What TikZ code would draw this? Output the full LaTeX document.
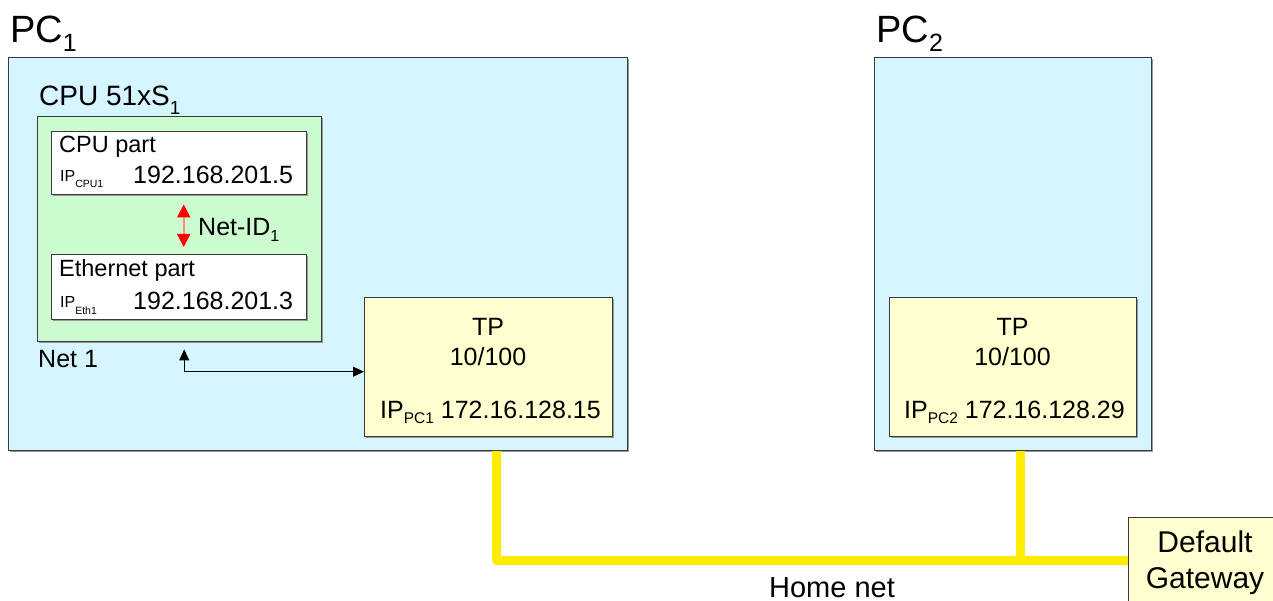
\documentclass[tikz,border=0pt]{standalone}
\usepackage{fontspec}
\setmainfont{Liberation Sans}
\usetikzlibrary{arrows.meta,shadows}
\definecolor{pcfill}{HTML}{D5F5FF}
\definecolor{cpufill}{HTML}{CCFBCF}
\definecolor{tpfill}{HTML}{FFFFD0}
\definecolor{busyel}{HTML}{FFEC00}
\definecolor{edge}{HTML}{3A3A3A}
\newcommand{\fs}[1]{\fontsize{#1}{#1}\selectfont}
\newcommand{\lsub}[3]{\raisebox{-#1pt}{\fs{#2}#3}}
\begin{document}
\begin{tikzpicture}[x=1pt,y=-1pt,
  boxbase/.style={rectangle,draw=edge,line width=1.4pt,anchor=north west,inner sep=0pt,
    drop shadow={shadow xshift=1.5pt,shadow yshift=-1.5pt,fill=gray!80,opacity=1}},
  pcbox/.style={boxbase,fill=pcfill},
  cpubox/.style={boxbase,fill=cpufill},
  partbox/.style={boxbase,fill=white},
  tpbox/.style={boxbase,fill=tpfill},
  lbl/.style={anchor=base west,inner sep=0pt},
  clbl/.style={anchor=base,inner sep=0pt},
  yel/.style={draw=busyel,line width=9pt,line join=round},
  redarr/.style={draw=red!45!white,line width=2pt,
    {Triangle[length=13pt,width=13pt,color=red]}-{Triangle[length=13pt,width=13pt,color=red]}},
  blkarr/.style={draw=black,line width=0.9pt,
    {Triangle[length=11pt,width=10pt]}-{Triangle[length=11pt,width=10pt]}}
]
\useasboundingbox (0,0) rectangle (1273,601);
\fill[white] (0,0) rectangle (1273,601);

% bus
\coordinate (bus1) at (496,560);
\coordinate (bus2) at (1020,560);

% PC boxes
\node[pcbox,minimum width=619pt,minimum height=393pt] (pc1) at (8,57) {};
\node[pcbox,minimum width=277pt,minimum height=393pt] (pc2) at (874,57) {};

% gateway
\node[tpbox,minimum width=170pt,minimum height=110pt] (gw) at (1128,517) {};

% yellow bus lines
\draw[yel] (pc1.south -| bus1) -- (bus1) -- (bus1 -| gw.west);
\draw[yel] (pc2.south -| bus2) -- (bus2);

% labels PC
\node[lbl] (pc1lbl) at (10,43) {\fs{38}PC\lsub{9}{25}{1}};
\node[lbl] (pc2lbl) at (876,43) {\fs{38}PC\lsub{9}{25}{2}};

% CPU 51xS
\node[lbl] (cpulbl) at (39,106) {\fs{28}CPU 51xS\lsub{9}{19}{1}};
\node[cpubox,minimum width=284pt,minimum height=225pt] (cpu) at (37,116) {};
\node[partbox,minimum width=255pt,minimum height=63pt] (cpupart) at (51,131) {};
\node[partbox,minimum width=255pt,minimum height=65pt] (ethpart) at (51,254) {};

\node[lbl] (cpupartlbl) at (59,153) {\fs{23.5}CPU part};
\node[lbl] (ipcpu) at (60,182) {\fs{16}IP\lsub{6}{10.5}{CPU1}};
\node[lbl] (ipcpuval) at (133,184) {\fs{25}192.168.201.5};

\node[lbl] (ethpartlbl) at (59,277) {\fs{23.5}Ethernet part};
\node[lbl] (ipeth) at (60,308) {\fs{16}IP\lsub{6}{10.5}{Eth1}};
\node[lbl] (ipethval) at (133,309) {\fs{25}192.168.201.3};

\draw[redarr] ([xshift=4.5pt,yshift=-9pt]cpupart.south) -- ([xshift=4.5pt,yshift=7pt]ethpart.north);
\node[lbl] (netid) at (198,236) {\fs{25}Net-ID\lsub{6}{16}{1}};

\node[lbl] (net1) at (38,367) {\fs{25}Net 1};

% TP boxes
\node[tpbox,minimum width=248pt,minimum height=139pt] (tp1) at (364,297) {};
\node[tpbox,minimum width=247pt,minimum height=139pt] (tp2) at (889,297) {};

\node[clbl] (tp1a) at (488,335) {\fs{25}TP};
\node[clbl] (tp1b) at (488,365) {\fs{25}10/100};
\node[lbl] (tp1ip) at (380,418) {\fs{25}IP\lsub{5}{15.5}{PC1} 172.16.128.15};

\node[clbl] (tp2a) at (1012.5,335) {\fs{25}TP};
\node[clbl] (tp2b) at (1012.5,365) {\fs{25}10/100};
\node[lbl] (tp2ip) at (904,418) {\fs{25}IP\lsub{5}{15.5}{PC2} 172.16.128.29};

\draw[blkarr] ([xshift=4.5pt,yshift=-7pt]cpu.south) |- ([yshift=-4.5pt]tp1.west);

% gateway text and home net
\node[clbl] (gw1) at (1205,552) {\fs{30}Default};
\node[clbl,text depth=0pt] (gw2) at (1205,588) {\fs{30}Gateway};
\node[clbl,text depth=0pt] (home) at (832,597) {\fs{29}Home net};
\end{tikzpicture}
\end{document}
